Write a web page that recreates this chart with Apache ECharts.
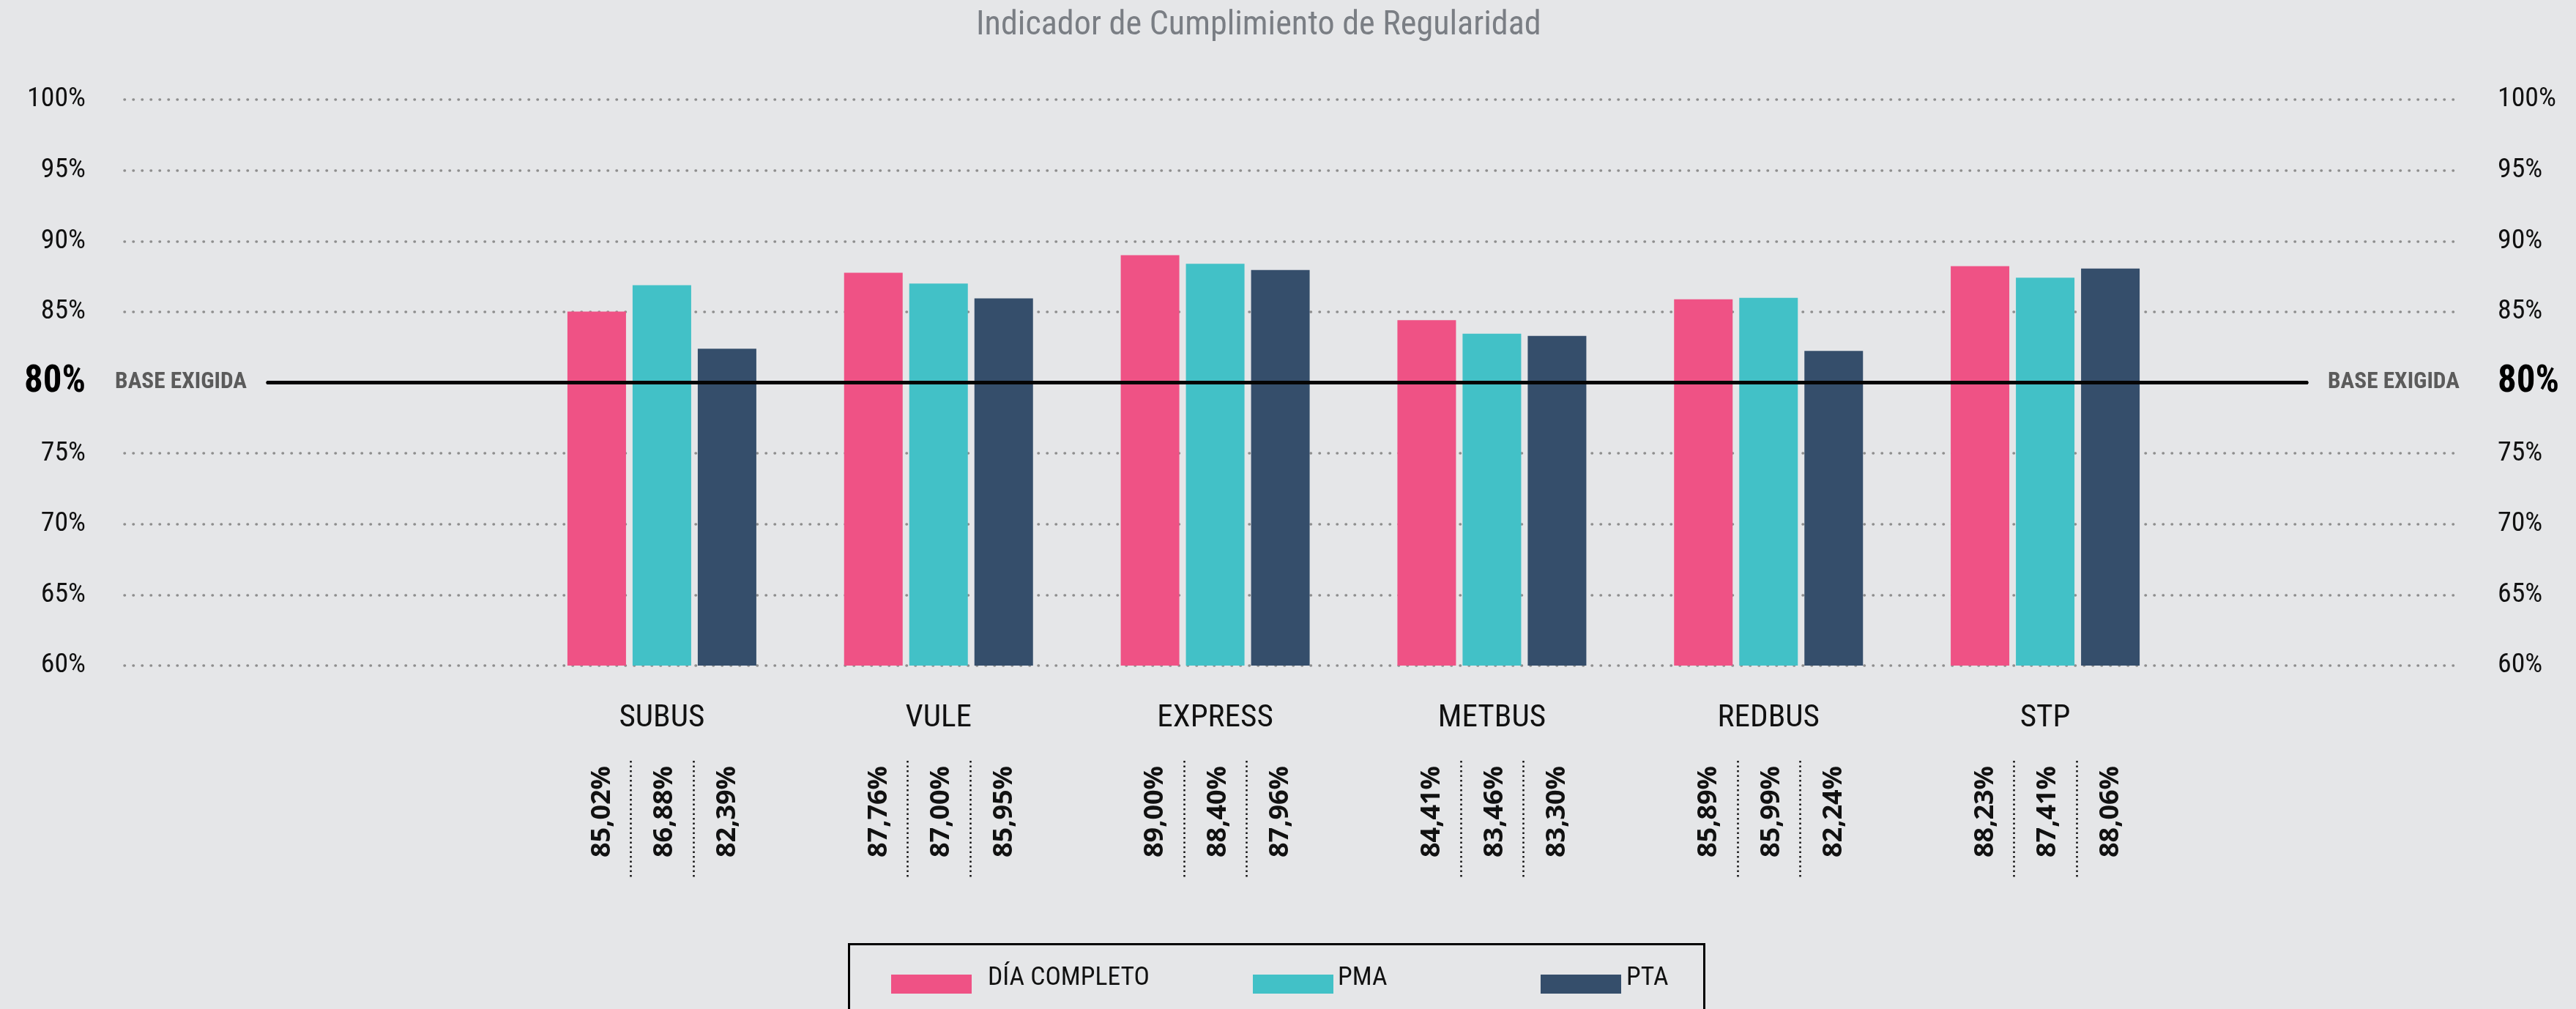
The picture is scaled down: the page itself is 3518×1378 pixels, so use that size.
<!DOCTYPE html>
<html>
<head>
<meta charset="utf-8">
<title>Indicador de Cumplimiento de Regularidad</title>
<script src="https://cdn.jsdelivr.net/npm/echarts@6/dist/echarts.min.js"></script>
<style>
  html, body { margin: 0; padding: 0; background: #e5e6e8; }
  #chart { width: 3518px; height: 1378px; }
</style>
</head>
<body>
<div id="chart"></div>
<script>
// datos del gráfico
const categorias = ['SUBUS', 'VULE', 'EXPRESS', 'METBUS', 'REDBUS', 'STP'];
const diaCompleto = [85.02, 87.76, 89.00, 84.41, 85.89, 88.23];
const pma = [86.88, 87.00, 88.40, 83.46, 85.99, 87.41];
const pta = [82.39, 85.95, 87.96, 83.30, 82.24, 88.06];
const baseExigida = 80;
const yMin = 60, yMax = 100, yPaso = 5;

const colores = ['#ef5285', '#42c1c7', '#354e6b'];
const BAR_W = 80, BAR_GAP = 9;      // ancho de barra y separacion
const ETQ_PASO = 85.5;              // separacion de las etiquetas giradas

// buscar una fuente estrecha instalada (sin red)
const medidor = document.createElement('canvas').getContext('2d');
function ancho(font, txt) {
	medidor.font = font;
	return medidor.measureText(txt).width;
}
function elegirFuente() {
	const prueba = 'Indicador SUBUS 100%';
	const opciones = [
		['normal', '"Liberation Sans Narrow"'],
		['normal', '"Roboto Condensed"'],
		['normal', '"Arial Narrow"'],
		['condensed', '"Noto Sans"'],
		['condensed', '"Open Sans"'],
		['condensed', 'Roboto'],
		['normal', '"DejaVu Sans Condensed"'],
		['condensed', '"DejaVu Sans"']
	];
	for (let i = 0; i < opciones.length; i++) {
		let st = opciones[i][0], fam = opciones[i][1];
		if (st === 'normal') {
			if (ancho('40px ' + fam + ', monospace', prueba) !== ancho('40px monospace', prueba)) {
				return { st: st, fam: fam };
			}
		} else if (ancho(st + ' 40px ' + fam, prueba) < 0.95 * ancho('40px ' + fam, prueba)) {
			return { st: st, fam: fam };
		}
	}
	return { st: 'normal', fam: '"Liberation Sans"' };
}
const F = elegirFuente();
// tamaño para que el texto ocupe el ancho del original
function tam(nominal, peso, txt, objetivo) {
	let w = ancho(F.st + ' ' + peso + ' ' + nominal + 'px ' + F.fam, txt);
	return Math.min(nominal * 1.08, nominal * objetivo / w);
}
function estilo(nominal, peso, txt, objetivo, color) {
	return {
		fontStyle: F.st, fontWeight: peso, fontFamily: F.fam,
		fontSize: tam(nominal, peso, txt, objetivo), color: color
	};
}

function pct(v) {
	return v.toFixed(2).replace('.', ',') + '%';
}

const sTick = estilo(39, 'normal', '100%', 80, '#111');
const sTick80 = estilo(50, 'bold', '80%', 84, '#000');
const sCat = estilo(42, 'normal', 'SUBUS', 117, '#111');
const sTitulo = estilo(45, 'normal', 'Indicador de Cumplimiento de Regularidad', 772, '#7a7e84');
const sLeyenda = estilo(36, 'normal', 'DÍA COMPLETO', 221, '#111');
const sBase = estilo(30, 'bold', 'BASE EXIGIDA', 180, '#5b5b5b');

// etiquetas del eje y: 80% en negrita
function ejeYLabel(margen) {
	return Object.assign({
		margin: margen,
		formatter: function (v) {
			return v === baseExigida ? '{b|' + v + '%}' : v + '%';
		},
		rich: { b: sTick80 }
	}, sTick);
}
// lineas punteadas, la de 80% se oculta
const coloresRejilla = [];
for (let v = yMin; v <= yMax; v += yPaso) {
	coloresRejilla.push(v === baseExigida ? 'rgba(0,0,0,0)' : '#8e8e8e');
}

let myChart = echarts.init(document.getElementById('chart'), null, { renderer: 'canvas' });

let option = {
	backgroundColor: '#e5e6e8',
	animation: false,
	title: {
		text: 'Indicador de Cumplimiento de Regularidad',
		left: 1333,
		top: 12,
		padding: 0,
		textStyle: sTitulo
	},
	legend: [
		{ data: ['DÍA COMPLETO'], left: 1217, pad: 17 },
		{ data: ['PMA'], left: 1711, pad: 1 },
		{ data: ['PTA'], left: 2104, pad: 2 }
	].map(function (l) {
		return {
			data: l.data,
			left: l.left,
			top: 1318,
			padding: 0,
			icon: 'rect',
			itemWidth: 110,
			itemHeight: 26,
			selectedMode: false,
			formatter: '{t|{name}}',
			textStyle: Object.assign({}, sLeyenda, {
				rich: { t: Object.assign({ padding: [0, 0, 16, l.pad] }, sLeyenda) }
			})
		};
	}),
	graphic: [{
		type: 'rect',
		left: 1157,
		top: 1287,
		shape: { width: 1168, height: 160 },
		style: { fill: 'none', stroke: '#000', lineWidth: 3 },
		silent: true
	}],
	grid: [
		{ left: 170, right: 159, top: 136, bottom: 469 },  // rejilla y ejes
		{ left: 715, right: 536, top: 136, bottom: 469 }   // barras
	],
	xAxis: [
		{ gridIndex: 0, type: 'value', show: false, min: 0, max: 1 },
		{
			gridIndex: 1,
			type: 'category',
			data: categorias,
			axisLine: { show: false },
			axisTick: { show: false },
			axisLabel: Object.assign({ margin: 51 }, sCat)
		}
	],
	yAxis: [
		{
			gridIndex: 0, type: 'value', position: 'left',
			min: yMin, max: yMax, interval: yPaso,
			axisLine: { show: false }, axisTick: { show: false },
			axisLabel: ejeYLabel(53),
			splitLine: { show: true, lineStyle: { color: coloresRejilla, width: 3.5, type: [0.5, 11.5], cap: 'round' } }
		},
		{
			gridIndex: 0, type: 'value', position: 'right',
			min: yMin, max: yMax, interval: yPaso,
			axisLine: { show: false }, axisTick: { show: false },
			axisLabel: ejeYLabel(52),
			splitLine: { show: false }
		},
		{
			gridIndex: 1, type: 'value', min: yMin, max: yMax, interval: yPaso, show: false,
			splitLine: { show: false }
		}
	],
	series: [
		{
			name: 'DÍA COMPLETO',
			type: 'bar',
			xAxisIndex: 1, yAxisIndex: 2,
			barWidth: BAR_W, barGap: (BAR_GAP / BAR_W * 100) + '%',
			itemStyle: { color: colores[0] },
			data: diaCompleto,
			markLine: {
				silent: true,
				z: 5,
				symbol: ['none', 'none'],
				lineStyle: { color: '#050505', width: 5, type: 'solid', cap: 'round' },
				label: Object.assign({ show: true, formatter: 'BASE EXIGIDA', distance: 29 }, sBase),
				emphasis: { disabled: true },
				data: [
					[{ xAxis: 0, yAxis: baseExigida, x: 366, label: { position: 'start' } },
					 { xAxis: 0, yAxis: baseExigida, x: 3150 }],
					[{ xAxis: 0, yAxis: baseExigida, x: 366, label: { position: 'end' } },
					 { xAxis: 0, yAxis: baseExigida, x: 3150 }]
				]
			}
		},
		{
			name: 'PMA',
			type: 'bar',
			xAxisIndex: 1, yAxisIndex: 2,
			barWidth: BAR_W, barGap: (BAR_GAP / BAR_W * 100) + '%',
			itemStyle: { color: colores[1] },
			data: pma
		},
		{
			name: 'PTA',
			type: 'bar',
			xAxisIndex: 1, yAxisIndex: 2,
			barWidth: BAR_W, barGap: (BAR_GAP / BAR_W * 100) + '%',
			itemStyle: { color: colores[2] },
			data: pta
		},
		{
			// valores girados bajo cada grupo y separadores punteados
			type: 'custom',
			xAxisIndex: 1, yAxisIndex: 2,
			silent: true,
			encode: { x: 0, y: 1 },
			data: categorias.map(function (c, i) { return [i, diaCompleto[i], pma[i], pta[i]]; }),
			renderItem: function (params, api) {
				let p = api.coord([api.value(0), yMin]);
				let hijos = [];
				for (let k = 0; k < 3; k++) {
					hijos.push({
						type: 'text',
						x: p[0] + (k - 1) * ETQ_PASO + 4,
						y: p[1] + 262,
						rotation: Math.PI / 2,
						style: {
							text: pct(api.value(k + 1)),
							align: 'left',
							verticalAlign: 'middle',
							font: 'bold 36px "Open Sans", "Liberation Sans", sans-serif',
							fill: '#111'
						}
					});
				}
				[-0.5, 0.5].forEach(function (o) {
					let x = Math.round(p[0] + o * ETQ_PASO) + 0.5;
					hijos.push({
						type: 'line',
						shape: { x1: x, y1: p[1] + 130, x2: x, y2: p[1] + 289 },
						style: { stroke: '#111', lineWidth: 2.5, lineDash: [2.5, 4] }
					});
				});
				return { type: 'group', children: hijos };
			}
		}
	]
};
myChart.setOption(option);
</script>
</body>
</html>
